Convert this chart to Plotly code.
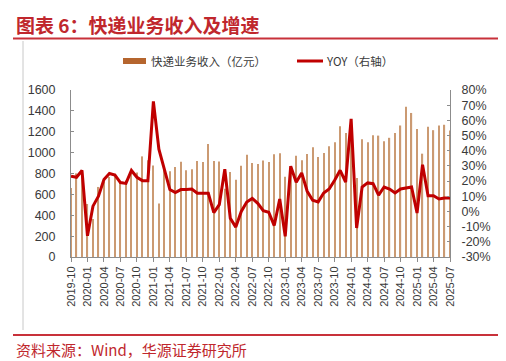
import plotly.graph_objects as go

months = [
    "2019-10", "2019-11", "2019-12",
    "2020-01", "2020-02", "2020-03", "2020-04", "2020-05", "2020-06",
    "2020-07", "2020-08", "2020-09", "2020-10", "2020-11", "2020-12",
    "2021-01", "2021-02", "2021-03", "2021-04", "2021-05", "2021-06",
    "2021-07", "2021-08", "2021-09", "2021-10", "2021-11", "2021-12",
    "2022-01", "2022-02", "2022-03", "2022-04", "2022-05", "2022-06",
    "2022-07", "2022-08", "2022-09", "2022-10", "2022-11", "2022-12",
    "2023-01", "2023-02", "2023-03", "2023-04", "2023-05", "2023-06",
    "2023-07", "2023-08", "2023-09", "2023-10", "2023-11", "2023-12",
    "2024-01", "2024-02", "2024-03", "2024-04", "2024-05", "2024-06",
    "2024-07", "2024-08", "2024-09", "2024-10", "2024-11", "2024-12",
    "2025-01", "2025-02", "2025-03", "2025-04", "2025-05", "2025-06",
    "2025-07",
]

revenue = [
    661, 801, 770,
    508, 364, 671, 718, 767, 797, 725, 732, 821, 810, 964, 927,
    876, 513, 852, 821, 862, 912, 830, 840, 920, 910, 1083, 920,
    916, 655, 814, 739, 875, 980, 900, 890, 924, 911, 985, 995,
    768, 850, 970, 926, 987, 1051, 958, 996, 1060, 1099, 1252, 1188,
    1238, 757, 1128, 1099, 1166, 1163, 1110, 1142, 1189, 1260, 1440, 1380,
    1226, 990, 1248, 1215, 1260, 1267, 1211,
]

yoy = [
    23.2, 22.5, 27.0,
    -16.0, 3.5, 10.0, 21.0, 25.0, 24.0, 19.0, 18.5, 27.0, 22.5, 20.3, 20.3,
    72.5, 41.0, 27.0, 14.4, 12.4, 14.4, 14.4, 14.8, 12.0, 12.0, 12.0, -0.8,
    4.5, 27.8, -4.5, -10.3, 0.0, 6.2, 8.6, 5.4, 0.5, -0.5, -9.3, 8.2,
    -16.4, 29.8, 19.2, 25.4, 13.3, 7.4, 6.3, 12.2, 14.8, 20.6, 27.1, 19.4,
    61.0, -10.9, 16.1, 18.8, 18.3, 10.7, 16.1, 14.8, 12.2, 14.8, 15.4, 16.1,
    -1.0, 30.8, 10.4, 10.4, 8.2, 8.9, 8.9,
]

left_ticks = [0, 200, 400, 600, 800, 1000, 1200, 1400, 1600]
right_ticks = [-30, -20, -10, 0, 10, 20, 30, 40, 50, 60, 70, 80]
x_ticks = months[::3]

bar_name = "快递业务收入（亿元）"
line_name = "YOY（右轴）"
title_text = "图表 6：快递业务收入及增速"
source_text = "资料来源：Wind，华源证券研究所"

BAR_COLOR = "#CB9A72"
SWATCH_COLOR = "#B5652E"
LINE_COLOR = "#C00000"
RED = "#C0272D"
AXIS = "#8C8C8C"
TXT = "#3A3A3A"

# plot area in pixels
L, R, T, B = 63, 442, 82, 249
W, H = 506, 361


def px(x):
    return (x - L) / (R - L)


def py(y):
    return (B - y) / (B - T)


fig = go.Figure()
fig.add_trace(go.Bar(x=months, y=revenue, name=bar_name, marker_color=BAR_COLOR,
                     marker_line_width=0, width=0.22, showlegend=False))
fig.add_trace(go.Scatter(x=months, y=yoy, name=line_name, yaxis="y2", mode="lines",
                         line=dict(color=LINE_COLOR, width=3), showlegend=False))

tickfont = dict(family="Liberation Sans, Arial, sans-serif", size=12.5, color=TXT)

fig.update_layout(
    width=W, height=H,
    margin=dict(l=L, r=W - R, t=T, b=H - B, pad=0),
    paper_bgcolor="white", plot_bgcolor="white",
    showlegend=False,
    xaxis=dict(type="category", range=[0, len(months) - 1], tickmode="array",
               tickvals=x_ticks, ticktext=x_ticks, tickangle=-90,
               tickfont=dict(family="Liberation Sans, Arial, sans-serif", size=11, color=TXT),
               showline=True, linecolor=AXIS, linewidth=1, ticks="outside",
               ticklen=4, tickcolor=AXIS, showgrid=False, zeroline=False),
    yaxis=dict(range=[0, 1600], tickvals=left_ticks, tickfont=tickfont,
               showline=True, linecolor=AXIS, linewidth=1, ticks="inside",
               ticklen=3, tickcolor=AXIS, showgrid=False, zeroline=False,
               ticklabelstandoff=12),
    yaxis2=dict(range=[-30, 80], tickvals=right_ticks,
                ticktext=[f"{v}%" for v in right_ticks], tickfont=tickfont,
                overlaying="y", side="right", showline=True, linecolor=AXIS,
                linewidth=1, ticks="inside", ticklen=3, tickcolor=AXIS,
                showgrid=False, zeroline=False, ticklabelstandoff=8),
)

shapes = [
    dict(type="line", xref="paper", yref="paper", x0=px(5), x1=px(501),
         y0=py(30.5), y1=py(30.5), line=dict(color="#C8313A", width=2)),
    dict(type="line", xref="paper", yref="paper", x0=px(5), x1=px(501),
         y0=py(327), y1=py(327), line=dict(color="#C8313A", width=2)),
    dict(type="line", xref="paper", yref="paper", x0=px(15), x1=px(15),
         y0=py(33), y1=py(322), line=dict(color="#C8C8C8", width=1)),
    dict(type="rect", xref="paper", yref="paper", x0=px(115), x1=px(138),
         y0=py(56), y1=py(50), fillcolor=SWATCH_COLOR, line=dict(width=0)),
    dict(type="line", xref="paper", yref="paper", x0=px(289), x1=px(315),
         y0=py(53), y1=py(53), line=dict(color=LINE_COLOR, width=3)),
]

annotations = [
    dict(text=f"<b>{title_text}</b>", xref="paper", yref="paper", x=px(6), y=py(16),
         xanchor="left", yanchor="middle", showarrow=False,
         font=dict(family="Noto Sans CJK SC", size=19, color=RED)),
    dict(text=source_text, xref="paper", yref="paper", x=px(6), y=py(341),
         xanchor="left", yanchor="middle", showarrow=False,
         font=dict(family="Noto Sans CJK SC", size=15, color=RED)),
    dict(text=bar_name, xref="paper", yref="paper", x=px(141), y=py(53),
         xanchor="left", yanchor="middle", showarrow=False,
         font=dict(family="Noto Sans CJK SC", size=11.5, color=TXT)),
    dict(text=line_name, xref="paper", yref="paper", x=px(316), y=py(53),
         xanchor="left", yanchor="middle", showarrow=False,
         font=dict(family="Noto Sans CJK SC", size=11.5, color=TXT)),
]

fig.update_layout(shapes=shapes, annotations=annotations)

fig.write_html("out.html")
